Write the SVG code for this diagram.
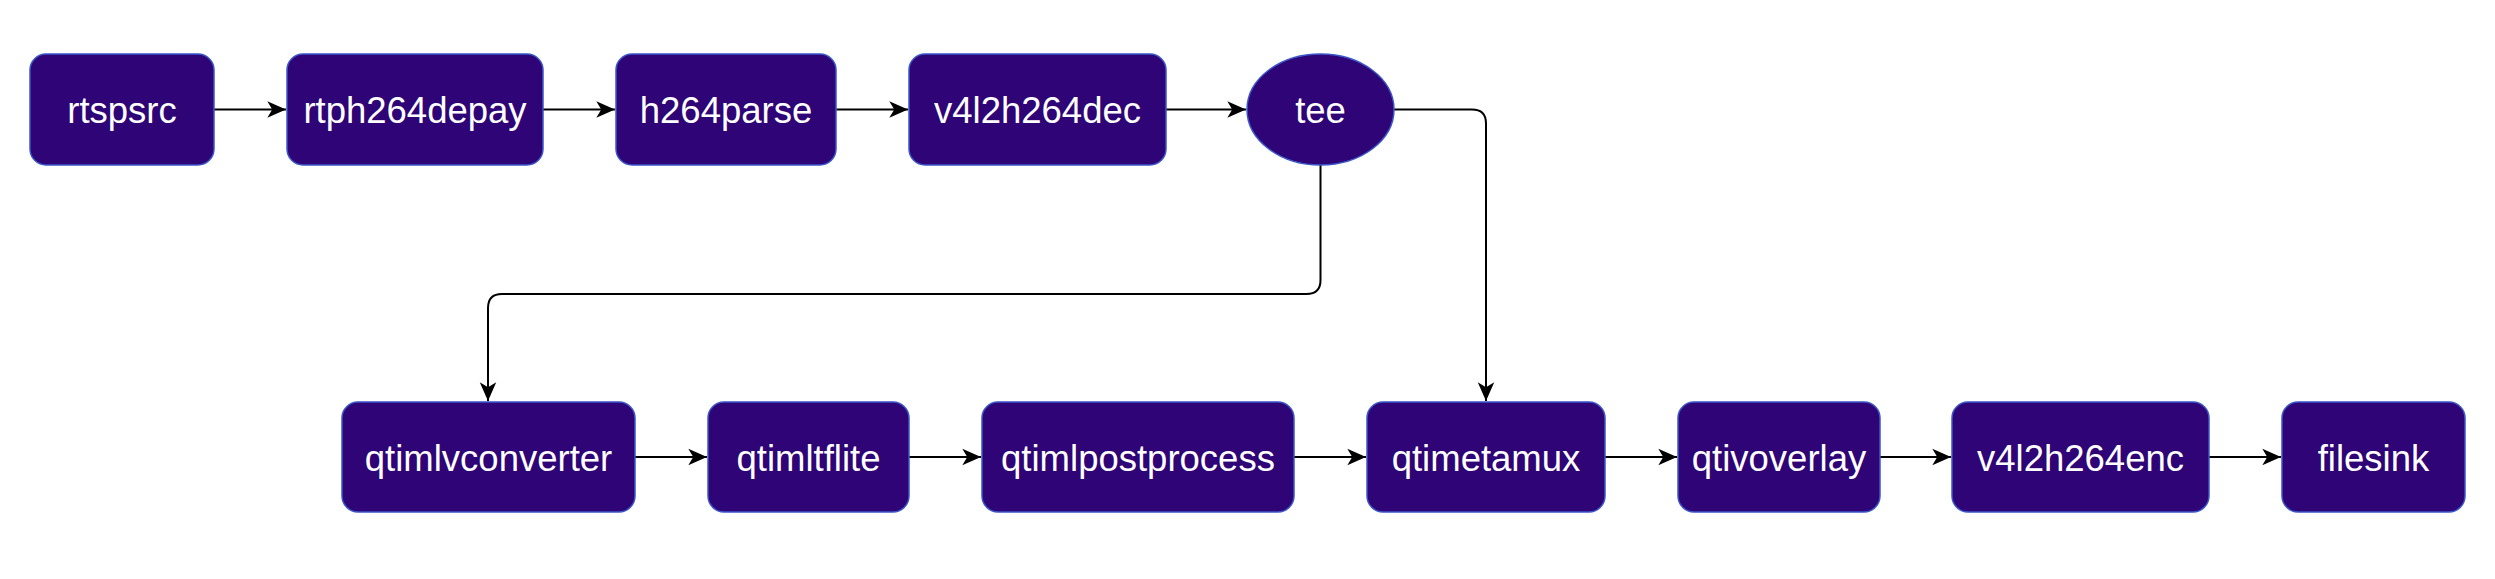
<svg xmlns="http://www.w3.org/2000/svg" width="2495" height="579" viewBox="0 0 2495 579">
<style>
.node{fill:#2E0476;stroke:#3A56C8;stroke-width:1.5}
.lbl{fill:#ffffff;font-family:"Liberation Sans",Arial,sans-serif;font-size:36.5px;text-anchor:middle}
.edge{fill:none;stroke:#000000;stroke-width:2}
</style>
<defs>
<marker id="arr" markerUnits="userSpaceOnUse" markerWidth="22" markerHeight="22" viewBox="-18 -9 20 18" refX="0" refY="0" orient="auto">
<path d="M0,0 L-17,-7.5 L-12.5,0 L-17,7.5 Z" fill="#000"/>
</marker>
</defs>
<rect width="2495" height="579" fill="#ffffff"/>
<g id="connectors">
<path class="edge" marker-end="url(#arr)" d="M214,109.5 H286"/>
<path class="edge" marker-end="url(#arr)" d="M543,109.5 H615"/>
<path class="edge" marker-end="url(#arr)" d="M836,109.5 H908"/>
<path class="edge" marker-end="url(#arr)" d="M1166,109.5 H1246"/>
<path class="edge" marker-end="url(#arr)" d="M1394,109.5 H1472 Q1486,109.5 1486,123.5 V401"/>
<path class="edge" marker-end="url(#arr)" d="M1320.5,165 V280 Q1320.5,294 1306.5,294 H502 Q488,294 488,308 V401"/>
<path class="edge" marker-end="url(#arr)" d="M635,457 H707"/>
<path class="edge" marker-end="url(#arr)" d="M909,457 H981"/>
<path class="edge" marker-end="url(#arr)" d="M1294,457 H1366"/>
<path class="edge" marker-end="url(#arr)" d="M1605,457 H1677"/>
<path class="edge" marker-end="url(#arr)" d="M1880,457 H1951"/>
<path class="edge" marker-end="url(#arr)" d="M2209,457 H2281"/>
</g>
<g id="rtspsrc"><rect class="node" x="30" y="54" width="184" height="111" rx="16"/><text class="lbl" x="122" y="123">rtspsrc</text></g>
<g id="rtph264depay"><rect class="node" x="287" y="54" width="256" height="111" rx="16"/><text class="lbl" x="415" y="123">rtph264depay</text></g>
<g id="h264parse"><rect class="node" x="616" y="54" width="220" height="111" rx="16"/><text class="lbl" x="726" y="123">h264parse</text></g>
<g id="v4l2h264dec"><rect class="node" x="909" y="54" width="257" height="111" rx="16"/><text class="lbl" x="1037.5" y="123">v4l2h264dec</text></g>
<g id="tee"><ellipse class="node" cx="1320.5" cy="109.5" rx="73.5" ry="55.5"/><text class="lbl" x="1320.5" y="123">tee</text></g>
<g id="qtimlvconverter"><rect class="node" x="342" y="402" width="293" height="110" rx="16"/><text class="lbl" x="488.5" y="470.5">qtimlvconverter</text></g>
<g id="qtimltflite"><rect class="node" x="708" y="402" width="201" height="110" rx="16"/><text class="lbl" x="808.5" y="470.5">qtimltflite</text></g>
<g id="qtimlpostprocess"><rect class="node" x="982" y="402" width="312" height="110" rx="16"/><text class="lbl" x="1138" y="470.5">qtimlpostprocess</text></g>
<g id="qtimetamux"><rect class="node" x="1367" y="402" width="238" height="110" rx="16"/><text class="lbl" x="1486" y="470.5">qtimetamux</text></g>
<g id="qtivoverlay"><rect class="node" x="1678" y="402" width="202" height="110" rx="16"/><text class="lbl" x="1779" y="470.5">qtivoverlay</text></g>
<g id="v4l2h264enc"><rect class="node" x="1952" y="402" width="257" height="110" rx="16"/><text class="lbl" x="2080.5" y="470.5">v4l2h264enc</text></g>
<g id="filesink"><rect class="node" x="2282" y="402" width="183" height="110" rx="16"/><text class="lbl" x="2373.5" y="470.5">filesink</text></g>
</svg>
